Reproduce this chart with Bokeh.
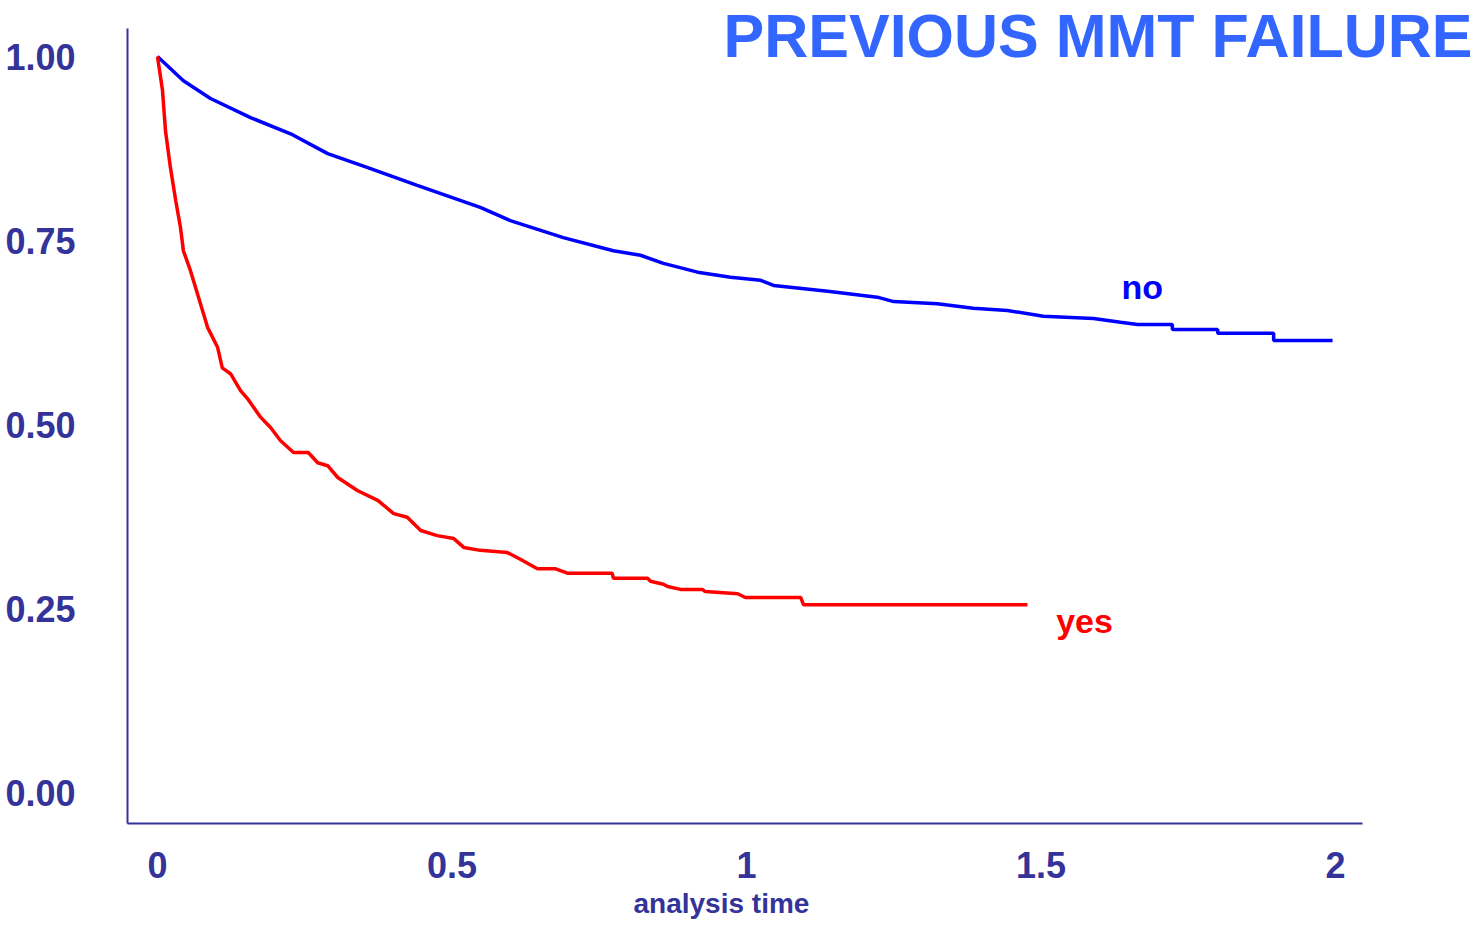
from bokeh.plotting import figure
from bokeh.models import Range1d, FixedTicker, Label, Title
from bokeh.embed import file_html
from bokeh.resources import INLINE

# ---- data (Kaplan-Meier survival estimates) ----
no_time = [0.0, 0.044, 0.090, 0.158, 0.226, 0.289, 0.357, 0.441, 0.548, 0.599,
           0.689, 0.774, 0.820, 0.859, 0.917, 0.973, 1.024, 1.046, 1.138, 1.222,
           1.250, 1.324, 1.385, 1.443, 1.504, 1.589, 1.635, 1.664, 1.723, 1.723,
           1.800, 1.800, 1.895, 1.895, 1.995]
no_surv = [1.000, 0.967, 0.943, 0.917, 0.895, 0.868, 0.849, 0.825, 0.795, 0.777,
           0.754, 0.736, 0.730, 0.719, 0.707, 0.700, 0.696, 0.689, 0.681, 0.673,
           0.667, 0.664, 0.658, 0.655, 0.647, 0.644, 0.639, 0.636, 0.636, 0.629,
           0.629, 0.624, 0.624, 0.614, 0.614]

yes_time = [0.0, 0.0085, 0.0136, 0.022, 0.031, 0.039, 0.044, 0.056, 0.073, 0.085,
            0.102, 0.110, 0.124, 0.141, 0.153, 0.175, 0.192, 0.209, 0.231, 0.256,
            0.272, 0.289, 0.306, 0.340, 0.374, 0.401, 0.424, 0.447, 0.475, 0.503,
            0.520, 0.548, 0.594, 0.616, 0.645, 0.676, 0.696, 0.772, 0.774, 0.832,
            0.837, 0.859, 0.866, 0.888, 0.925, 0.930, 0.985, 0.998, 1.092, 1.097,
            1.477]
yes_surv = [1.000, 0.954, 0.899, 0.849, 0.804, 0.768, 0.736, 0.709, 0.664, 0.632,
            0.605, 0.577, 0.569, 0.546, 0.535, 0.510, 0.496, 0.478, 0.462, 0.462,
            0.448, 0.444, 0.428, 0.410, 0.397, 0.379, 0.374, 0.356, 0.349, 0.345,
            0.333, 0.329, 0.326, 0.317, 0.304, 0.304, 0.298, 0.298, 0.291, 0.291,
            0.287, 0.283, 0.280, 0.276, 0.276, 0.273, 0.270, 0.265, 0.265, 0.255,
            0.255]

x_ticks = [0, 0.5, 1, 1.5, 2]
x_tick_labels = ["0", "0.5", "1", "1.5", "2"]
y_ticks = [0, 0.25, 0.5, 0.75, 1.0]
y_tick_labels = ["0.00", "0.25", "0.50", "0.75", "1.00"]

title_text = "PREVIOUS MMT FAILURE"
x_title = "analysis time"
group_labels = ["no", "yes"]

AXIS = "#333399"
FONT = "Liberation Sans"

X0, X1 = -0.0509, 2.2394      # frame extent; x axis line drawn only to 2.0459
Y0, Y1 = -0.0421, 1.0761      # frame extent; y axis line drawn only to 1.038
p = figure(frame_width=1349, frame_height=823,
           x_range=Range1d(X0, X1), y_range=Range1d(Y0, Y1),
           min_border_left=127, min_border_right=0, min_border_top=0,
           min_border_bottom=0,
           output_backend="svg", toolbar_location=None)
p.outline_line_color = None
p.xgrid.visible = False
p.ygrid.visible = False
p.background_fill_color = "white"

p.line(no_time, no_surv, line_color="#0000ff", line_width=3.5)
p.line(yes_time, yes_surv, line_color="#ff0000", line_width=3.5)

for ax in (p.xaxis[0], p.yaxis[0]):
    ax.axis_line_color = AXIS
    ax.axis_line_width = 2
    ax.major_tick_line_color = None
    ax.minor_tick_line_color = None
    ax.major_tick_out = 0
    ax.major_tick_in = 0
    ax.minor_tick_out = 0
    ax.major_label_text_font = FONT
    ax.major_label_text_font_style = "bold"
    ax.major_label_text_font_size = "36px"
    ax.major_label_text_color = AXIS

p.xaxis.bounds = (X0, 2.0459)
p.xaxis.ticker = FixedTicker(ticks=x_ticks)
p.xaxis.major_label_overrides = {t: l for t, l in zip(x_ticks, x_tick_labels)}
p.xaxis.major_label_standoff = 28

p.yaxis.bounds = (Y0, 1.038)
p.yaxis.ticker = FixedTicker(ticks=y_ticks)
p.yaxis.major_label_overrides = {t: l for t, l in zip(y_ticks, y_tick_labels)}
p.yaxis.major_label_standoff = 52

# x-axis title, placed as in the reference (left of the frame centre)
p.add_layout(Title(text=x_title, align="left", offset=506, standoff=11,
                   text_font=FONT, text_font_style="bold",
                   text_font_size="28px", text_color=AXIS), "below")

p.add_layout(Label(x=2.2326, y=1.0285, text=title_text, text_align="right",
                   text_baseline="middle", text_font=FONT,
                   text_font_style="bold", text_font_size="61px",
                   text_color="#3366ff"))
p.add_layout(Label(x=1.672, y=0.6868, text=group_labels[0], text_align="center",
                   text_baseline="middle", text_font=FONT,
                   text_font_style="bold", text_font_size="34px",
                   text_color="#0000ff"))
p.add_layout(Label(x=1.574, y=0.2337, text=group_labels[1], text_align="center",
                   text_baseline="middle", text_font=FONT,
                   text_font_style="bold", text_font_size="34px",
                   text_color="#ff0000"))

open("out.html", "w").write(file_html(p, INLINE))
